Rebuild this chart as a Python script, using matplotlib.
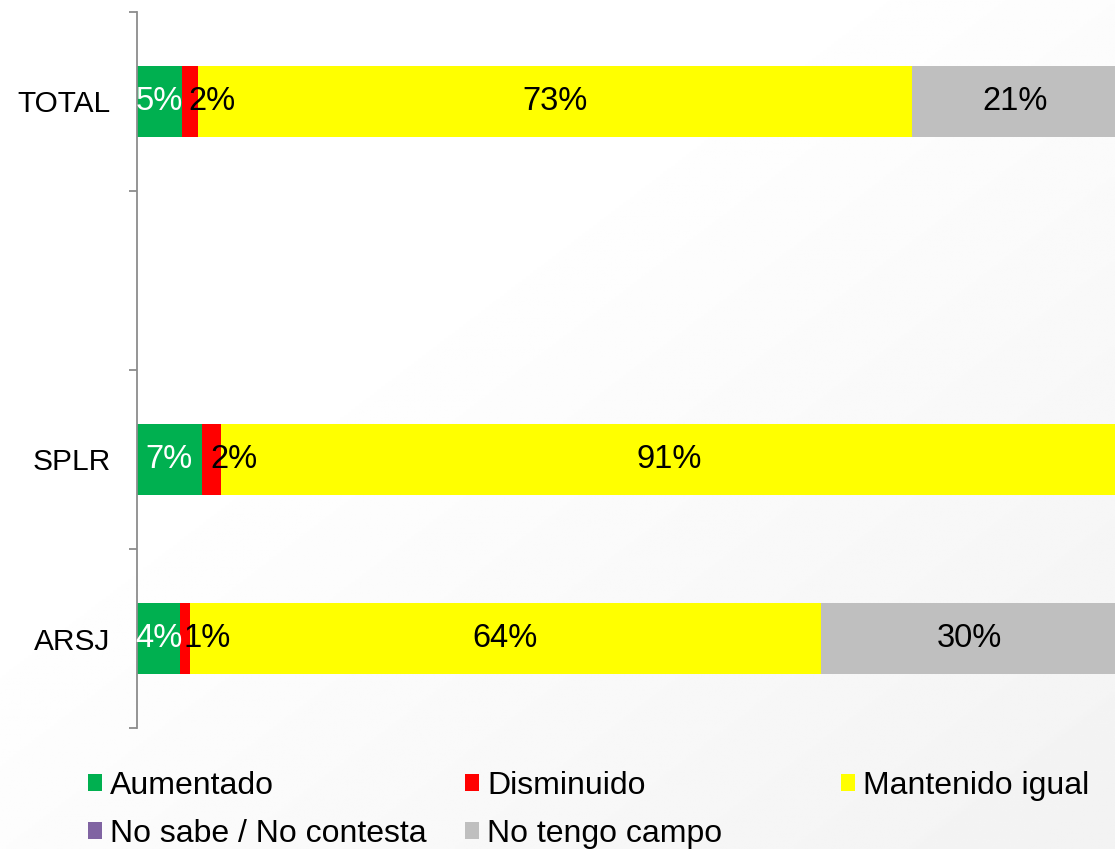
import matplotlib.pyplot as plt
from matplotlib.patches import Patch
import numpy as np

plt.rcParams['font.family'] = ['Liberation Sans', 'DejaVu Sans']

# data (percent)
categories = ['TOTAL', '', 'SPLR', 'ARSJ']
aumentado = [4.6, 0, 6.6, 4.4]
disminuido = [1.6, 0, 2.0, 1.0]
mantenido = [72.9, 0, 91.4, 64.4]
no_sabe = [0, 0, 0, 0]
no_campo = [20.9, 0, 0, 30.2]

series = [
    ('Aumentado', aumentado, '#00B050', 'white'),
    ('Disminuido', disminuido, '#FF0000', 'black'),
    ('Mantenido igual', mantenido, '#FFFF00', 'black'),
    ('No sabe / No contesta', no_sabe, '#8064A2', 'black'),
    ('No tengo campo', no_campo, '#BFBFBF', 'black'),
]

W, H = 1115, 849
fig = plt.figure(figsize=(W / 100, H / 100), dpi=100)

# faint grey gradient towards the lower right corner
bg = fig.add_axes([0, 0, 1, 1], zorder=0)
bg.axis('off')
xx, yy = np.meshgrid(np.linspace(0, 1, 300), np.linspace(0, 1, 300))
shade = np.clip((xx + yy - 0.7) / 1.3, 0, 1)
grad = 1 - 0.05 * shade
bg.imshow(grad, cmap='gray', vmin=0, vmax=1, extent=[0, 1, 0, 1],
          origin='upper', aspect='auto')

ax = fig.add_axes([137 / W, 1 - 728 / H, 980 / W, 716 / H], zorder=1)
ax.patch.set_alpha(0)

y = np.arange(len(categories))
left = np.zeros(len(categories))
for name, vals, col, tcol in series:
    vals = np.array(vals, dtype=float)
    ax.barh(y, vals, left=left, height=0.4, color=col, label=name)
    for yi, (l, v) in enumerate(zip(left, vals)):
        if v <= 0:
            continue
        xoff = 16 if name == 'Disminuido' else 0
        ax.annotate(f'{v:.0f}%', (l + v / 2, yi), xytext=(xoff, 0),
                    textcoords='offset points', ha='center', va='center',
                    fontsize=23.5, color=tcol, clip_on=False)
    left += vals

ax.set_xlim(0, 100)
ax.set_ylim(len(categories) - 0.5, -0.5)
ax.xaxis.set_visible(False)
for s in ['top', 'right', 'bottom']:
    ax.spines[s].set_visible(False)
ax.spines['left'].set_color('#8C8C8C')
ax.spines['left'].set_linewidth(1.3)

ax.set_yticks(y, labels=categories, fontsize=21.5)
ax.set_yticks(np.arange(len(categories) + 1) - 0.5, minor=True)
ax.tick_params(axis='y', which='major', length=0, pad=19)
ax.tick_params(axis='y', which='minor', length=6, width=1.3, color='#8C8C8C')

# legend laid out on a fixed grid like the original
cols = [[0, 3], [1, 4], [2]]
xs = [88, 465, 841]
for idx, x0 in zip(cols, xs):
    handles = [Patch(facecolor=series[i][2], label=series[i][0]) for i in idx]
    fig.legend(handles=handles, loc='upper left',
               bbox_to_anchor=(x0 / W, 1 - 771 / H), frameon=False,
               fontsize=23, borderpad=0, borderaxespad=0,
               handlelength=0.45, handleheight=0.45, handletextpad=0.25,
               labelspacing=0.55)

fig.savefig('out.png', dpi=100)
